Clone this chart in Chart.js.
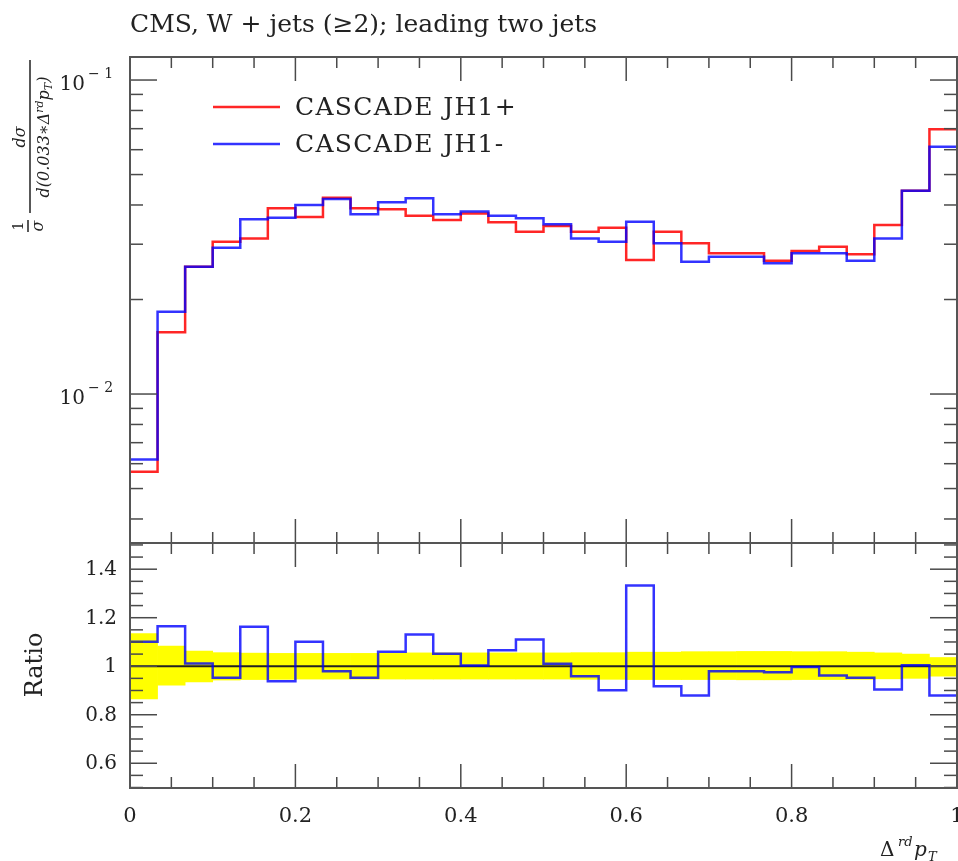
<!DOCTYPE html>
<html><head><meta charset="utf-8">
<script src="https://cdn.jsdelivr.net/npm/chart.js@4.4.0/dist/chart.umd.min.js"></script>
<style>html,body{margin:0;padding:0;background:#fff;}#wrap{width:958px;height:861px;position:relative;}</style>
</head><body><div id="wrap"><canvas id="c" width="958" height="861"></canvas></div>
<script>
// ---------------- data ----------------
const nBins = 30;
const binEdges = Array.from({length: nBins + 1}, (_, i) => i / nBins);
const seriesNames = ['CASCADE JH1+', 'CASCADE JH1-'];
const jh1Plus = [0.00566, 0.01572, 0.02543, 0.03055, 0.03131, 0.03903, 0.03661, 0.04219, 0.03903, 0.03876,
                 0.03696, 0.03581, 0.03760, 0.03522, 0.03287, 0.03430, 0.03287, 0.03385, 0.02671, 0.03287,
                 0.03019, 0.02806, 0.02806, 0.02658, 0.02853, 0.02945, 0.02786, 0.03453, 0.04441, 0.06966];
const jh1Minus = [0.00619, 0.01829, 0.02543, 0.02923, 0.03600, 0.03642, 0.03999, 0.04178, 0.03734, 0.04079,
                  0.04200, 0.03734, 0.03810, 0.03696, 0.03627, 0.03470, 0.03131, 0.03055, 0.03538, 0.03019,
                  0.02638, 0.02737, 0.02737, 0.02608, 0.02806, 0.02806, 0.02658, 0.03131, 0.04441, 0.06131];
const ratioPlus = [1, 1, 1, 1, 1, 1, 1, 1, 1, 1, 1, 1, 1, 1, 1, 1, 1, 1, 1, 1, 1, 1, 1, 1, 1, 1, 1, 1, 1, 1];
const ratioMinus = [1.101, 1.165, 1.011, 0.952, 1.163, 0.938, 1.101, 0.979, 0.952, 1.060,
                    1.131, 1.051, 1.003, 1.066, 1.110, 1.010, 0.959, 0.901, 1.333, 0.917,
                    0.879, 0.979, 0.979, 0.975, 0.997, 0.962, 0.952, 0.904, 1.004, 0.879];
const bandHigh = [1.135, 1.083, 1.062, 1.056, 1.054, 1.053, 1.053, 1.053, 1.053, 1.053,
                  1.055, 1.055, 1.055, 1.055, 1.055, 1.055, 1.056, 1.056, 1.058, 1.058,
                  1.060, 1.060, 1.061, 1.061, 1.060, 1.060, 1.058, 1.055, 1.050, 1.036];
const bandLow = [0.865, 0.922, 0.935, 0.943, 0.945, 0.946, 0.947, 0.947, 0.947, 0.947,
                 0.947, 0.947, 0.947, 0.947, 0.947, 0.947, 0.946, 0.946, 0.945, 0.945,
                 0.945, 0.945, 0.944, 0.944, 0.945, 0.945, 0.946, 0.948, 0.950, 0.959];
const xTickValues = [0, 0.2, 0.4, 0.6, 0.8, 1];
const xTickLabels = ['0', '0.2', '0.4', '0.6', '0.8', '1'];
const ratioTickValues = [0.6, 0.8, 1, 1.2, 1.4];
const ratioTickLabels = ['0.6', '0.8', '1', '1.2', '1.4'];
const logTickValues = [0.1, 0.01];
const logTickExponents = ['\u22121', '\u22122'];
const titleText = 'CMS, W + jets (\u22652); leading two jets';

// ---------------- helpers ----------------
const stepPts = vals => vals.map((v, i) => ({x: binEdges[i], y: v})).concat([{x: binEdges[nBins], y: vals[vals.length - 1]}]);
const bandPts = bandLow.map((lo, i) => ({x: (binEdges[i] + binEdges[i + 1]) / 2, y: [lo, bandHigh[i]]}));

const SERIF = '"DejaVu Serif", "Liberation Serif", serif';
const RED = 'rgba(255,0,0,0.85)';
const BLUE = 'rgba(0,0,255,0.8)';

function rot(ctx, cx, cy, fn) { ctx.save(); ctx.translate(cx, cy); ctx.rotate(-Math.PI / 2); fn(); ctx.restore(); }

const deco = {
  id: 'deco',
  afterDraw(chart) {
    const ctx = chart.ctx;
    const xs = chart.scales.x, yu = chart.scales.yMain, yr = chart.scales.yRatio;
    const L = xs.left, R = xs.right;
    ctx.save();
    const line = (x1, y1, x2, y2) => { ctx.beginPath(); ctx.moveTo(x1, y1); ctx.lineTo(x2, y2); ctx.stroke(); };
    ctx.strokeStyle = '#4a4a4a'; ctx.lineWidth = 1.5;
    // x ticks (inside, on all panel edges)
    for (let k = 0; k <= 20; k++) {
      const px = xs.getPixelForValue(k / 20);
      const len = k % 4 === 0 ? 24 : 11;
      [[yu.top, 1], [yu.bottom, -1], [yr.top, 1], [yr.bottom, -1]].forEach(([y0, d]) => line(px, y0, px, y0 + d * len));
    }
    // log ticks
    for (let e = -3; e <= -1; e++) for (let m = 1; m <= 9; m++) {
      const v = m * Math.pow(10, e);
      if (v < yu.min || v > yu.max) continue;
      const py = yu.getPixelForValue(v);
      const len = m === 1 ? 27 : 13;
      line(L, py, L + len, py); line(R, py, R - len, py);
    }
    // ratio ticks
    for (let k = 10; k <= 30; k++) {
      const v = k * 0.05;
      if (v < yr.min || v > yr.max) continue;
      const py = yr.getPixelForValue(v);
      const len = k % 4 === 0 ? 27 : 13;
      line(L, py, L + len, py); line(R, py, R - len, py);
    }
    // frames
    ctx.strokeStyle = '#555'; ctx.lineWidth = 2;
    ctx.strokeRect(L, yu.top, R - L, yu.bottom - yu.top);
    ctx.strokeRect(L, yr.top, R - L, yr.bottom - yr.top);

    ctx.fillStyle = '#222';
    // x tick labels
    ctx.font = '21px ' + SERIF; ctx.textAlign = 'center'; ctx.textBaseline = 'alphabetic';
    xTickValues.forEach((v, i) => ctx.fillText(xTickLabels[i], xs.getPixelForValue(v), 822));
    // ratio tick labels
    ctx.font = '20px ' + SERIF; ctx.textAlign = 'right'; ctx.textBaseline = 'middle';
    ratioTickValues.forEach((v, i) => ctx.fillText(ratioTickLabels[i], 117, yr.getPixelForValue(v) + 1));
    // log tick labels
    ctx.textBaseline = 'alphabetic';
    logTickValues.forEach((v, i) => {
      const py = yu.getPixelForValue(v);
      ctx.font = '20px ' + SERIF; ctx.textAlign = 'right';
      ctx.fillText('10', 85, py + 10);
      ctx.font = '14px ' + SERIF; ctx.textAlign = 'left';
      ctx.fillText(logTickExponents[i].replace('\u2212', '\u2212 '), 88, py - 2);
    });
    // title
    ctx.font = '25px ' + SERIF; ctx.textAlign = 'left';
    ctx.fillText(titleText, 130, 32);
    // legend
    const legY = [107, 144], legCol = [RED, BLUE];
    seriesNames.forEach((n, i) => {
      ctx.strokeStyle = legCol[i]; ctx.lineWidth = 2.5;
      line(213, legY[i], 280, legY[i]);
      ctx.fillStyle = '#222'; ctx.font = '25px ' + SERIF; ctx.textAlign = 'left';
      ctx.letterSpacing = '1.3px';
      ctx.fillText(n, 295, legY[i] + 8);
      ctx.letterSpacing = '0px';
    });
    // "Ratio" label
    rot(ctx, 36, 665, () => {
      ctx.font = '24px ' + SERIF; ctx.textAlign = 'center'; ctx.textBaseline = 'middle';
      ctx.fillText('Ratio', 0, 0);
    });
    // y axis label of main panel
    rot(ctx, 30, 137, () => {
      ctx.fillStyle = '#222';
      ctx.fillRect(-76, -0.75, 153, 1.5);
      ctx.textBaseline = 'alphabetic';
      ctx.font = 'italic 16px ' + SERIF; ctx.textAlign = 'center';
      ctx.fillText('d\u03c3', 0, -5);
      const pieces = [['d(0.033\u2217\u0394', 'italic 16px ', 0], ['rd', 'italic 11px ', -6], ['p', 'italic 16px ', 0], ['T', 'italic 11px ', 3], [')', 'italic 16px ', 0]];
      let w = 0;
      pieces.forEach(p => { ctx.font = p[1] + SERIF; w += ctx.measureText(p[0]).width; });
      let x0 = -w / 2; ctx.textAlign = 'left';
      pieces.forEach(p => { ctx.font = p[1] + SERIF; ctx.fillText(p[0], x0, 19 + p[2]); x0 += ctx.measureText(p[0]).width; });
      // 1/sigma
      ctx.font = '14px ' + SERIF; ctx.textAlign = 'center';
      ctx.fillText('1', -89, -7);
      ctx.fillRect(-95, -2.75, 12, 1.5);
      ctx.font = 'italic 16px ' + SERIF;
      ctx.fillText('\u03c3', -89, 13);
    });
    // x axis title
    ctx.textAlign = 'left'; ctx.textBaseline = 'alphabetic';
    ctx.font = '20px ' + SERIF; ctx.fillText('\u0394', 880, 856);
    ctx.font = 'italic 13px ' + SERIF; ctx.fillText('rd', 898, 846);
    ctx.font = 'italic 20px ' + SERIF; ctx.fillText('p', 914, 856);
    ctx.font = 'italic 13px ' + SERIF; ctx.fillText('T', 928, 861);
    ctx.restore();
  }
};

const stepLine = (label, data, color, yAxisID, width) => ({
  type: 'line', label, data, yAxisID, stepped: 'before', borderColor: color, borderWidth: width,
  pointRadius: 0, fill: false, tension: 0
});

new Chart(document.getElementById('c'), {
  type: 'line',
  data: {
    datasets: [
      stepLine(seriesNames[1], stepPts(ratioMinus), BLUE, 'yRatio', 2.5),
      stepLine(seriesNames[0], stepPts(ratioPlus), '#222', 'yRatio', 2),
      {type: 'bar', label: 'band', data: bandPts, yAxisID: 'yRatio', backgroundColor: '#ffff00', borderWidth: 0,
       barPercentage: 1, categoryPercentage: 1, grouped: false},
      stepLine(seriesNames[1], stepPts(jh1Minus), BLUE, 'yMain', 2.5),
      stepLine(seriesNames[0], stepPts(jh1Plus), RED, 'yMain', 2.5)
    ]
  },
  options: {
    responsive: false, animation: false, devicePixelRatio: 1,
    layout: {padding: {top: 57, right: 1, left: 0, bottom: 0}},
    plugins: {legend: {display: false}, tooltip: {enabled: false}},
    scales: {
      x: {type: 'linear', min: 0, max: 1, offset: false, grid: {display: false}, border: {display: false},
          ticks: {display: false}, afterFit: s => { s.height = 73; }},
      yMain: {type: 'logarithmic', position: 'left', stack: 'panels', stackWeight: 486, weight: 2,
              min: 0.003354, max: 0.1184, grid: {display: false}, border: {display: false},
              ticks: {display: false}, afterFit: s => { s.width = 130; }},
      yRatio: {type: 'linear', position: 'left', stack: 'panels', stackWeight: 245, weight: 1,
               min: 0.498, max: 1.508, grid: {display: false}, border: {display: false},
               ticks: {display: false}, afterFit: s => { s.width = 130; }}
    }
  },
  plugins: [deco]
});
</script></body></html>
